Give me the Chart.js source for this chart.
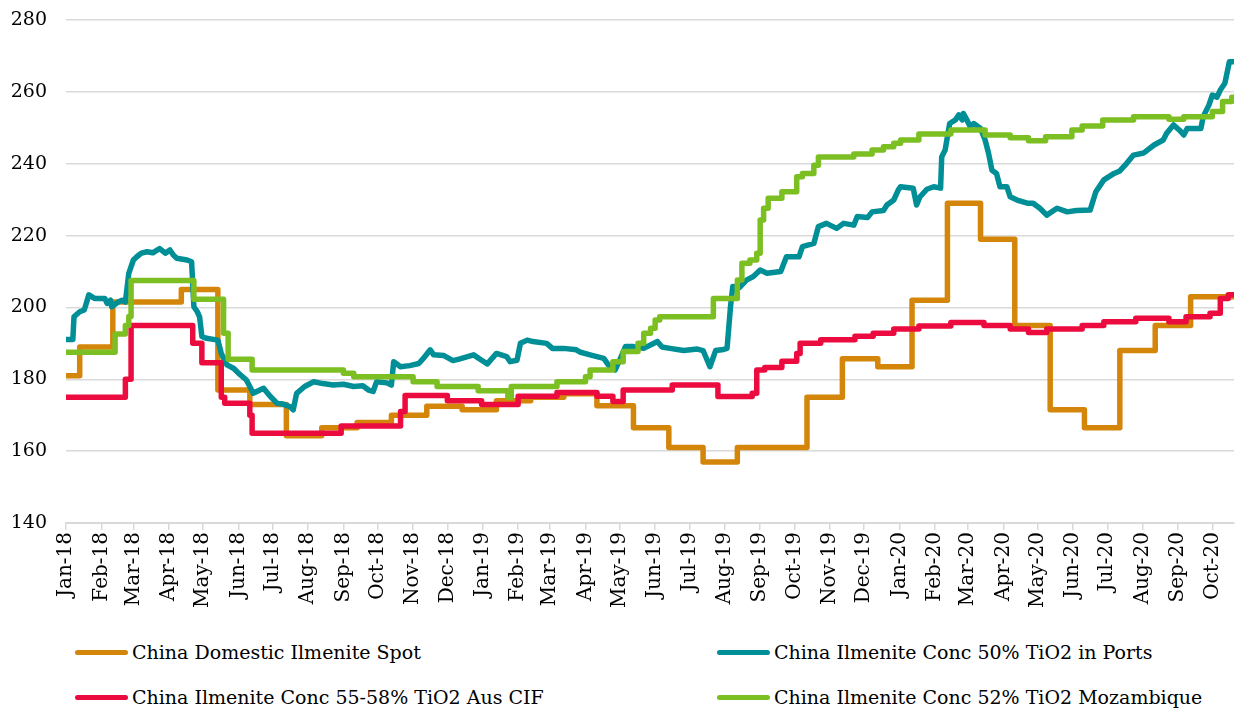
<!DOCTYPE html>
<html>
<head>
<meta charset="utf-8">
<script src="https://cdn.jsdelivr.net/npm/chart.js@4/dist/chart.umd.min.js"></script>
<style>
  body { margin: 0; background: #fff; }
  #wrap { position: relative; width: 1236px; height: 623px; }
  .legend { position: absolute; font-family: "DejaVu Serif", serif; font-size: 19px; color: #000; display: flex; align-items: center; white-space: nowrap; }
  .legend span.swatch { display: inline-block; width: 53px; height: 5px; border-radius: 3px; margin-right: 4px; }
</style>
</head>
<body>
<div id="wrap"><canvas id="line-chart"></canvas></div>
<div id="legend"></div>
<script>
// x values are days counted from 1 Jan 2018
const monthLabels = ['Jan-18', 'Feb-18', 'Mar-18', 'Apr-18', 'May-18', 'Jun-18', 'Jul-18', 'Aug-18', 'Sep-18', 'Oct-18', 'Nov-18', 'Dec-18',
    'Jan-19', 'Feb-19', 'Mar-19', 'Apr-19', 'May-19', 'Jun-19', 'Jul-19', 'Aug-19', 'Sep-19', 'Oct-19', 'Nov-19', 'Dec-19',
    'Jan-20', 'Feb-20', 'Mar-20', 'Apr-20', 'May-20', 'Jun-20', 'Jul-20', 'Aug-20', 'Sep-20', 'Oct-20'];
const lastDay = 1023;

const spotDays = [0, 12, 41, 101, 133, 161, 193, 224, 255, 285, 316, 347, 377, 407, 436, 465, 497, 528, 558, 588, 649, 680, 711, 741, 772, 801, 831, 862, 892, 923, 954, 985, 1023];
const spotValues = [181, 189, 201.5, 205, 177, 173, 164.3, 166.5, 168, 170, 172.5, 171.5, 174, 175, 176, 172.6, 166.5, 161, 157, 161, 175, 185.7, 183.5, 202, 229, 219, 195, 171.5, 166.5, 188, 195, 203, 203];

const portsDays = [0, 6, 7, 12, 16, 20, 25, 34, 36, 39, 40, 46, 49, 52, 55, 59, 62, 66, 71, 76, 82, 87, 91, 94, 97, 106, 110, 112, 115, 117, 119, 123, 133, 136, 141, 147, 151, 158, 164, 173, 179, 185, 190, 196, 199, 202, 209, 217, 225, 234, 243, 252, 260, 265, 269, 272, 281, 285, 287, 293, 301, 309, 313, 319, 322, 331, 339, 345, 357, 363, 369, 377, 386, 389, 395, 398, 404, 409, 421, 426, 436, 447, 450, 459, 471, 475, 481, 485, 490, 497, 506, 518, 522, 529, 541, 553, 558, 564, 569, 576, 579, 582, 584, 590, 596, 602, 608, 614, 626, 631, 642, 645, 655, 659, 666, 675, 681, 690, 693, 702, 706, 716, 719, 725, 729, 731, 742, 745, 748, 754, 760, 766, 767, 770, 774, 779, 782, 785, 786, 789, 792, 795, 801, 805, 808, 811, 815, 818, 824, 827, 833, 842, 847, 853, 859, 868, 877, 885, 897, 902, 909, 918, 923, 929, 935, 944, 953, 961, 964, 970, 975, 979, 982, 994, 996, 1001, 1004, 1008, 1011, 1015, 1019, 1023];
const portsValues = [191.1, 191.1, 197.4, 198.8, 199.3, 203.5, 202.5, 202.5, 201.1, 202, 200.2, 201.6, 202, 201.5, 209.5, 213.2, 214.1, 215.1, 215.5, 215.2, 216.4, 215.1, 216, 214.6, 213.7, 213.2, 212.7, 200.2, 198.8, 197.4, 191.9, 191.4, 190.9, 187.2, 184, 183, 181.7, 179.8, 176.1, 177.5, 175.2, 173.3, 173.1, 172.4, 171.5, 176.1, 178, 179.3, 178.8, 178.4, 178.6, 178, 178.2, 177, 176.6, 179.3, 179, 178.4, 184.9, 183.5, 183.8, 184.4, 185.8, 188.2, 186.8, 186.6, 185.2, 185.7, 186.8, 185.5, 184.3, 187.2, 186.3, 184.9, 185.3, 190, 190.9, 190.5, 190, 188.6, 188.6, 188.2, 187.6, 186.8, 185.8, 184, 182.6, 185.4, 189.1, 189.1, 188.6, 190.5, 189, 188.6, 188, 188.4, 188, 183.5, 188, 188.3, 188.6, 200.2, 205.8, 205.6, 207.6, 208.6, 210.4, 209.5, 210, 214.1, 214.1, 216.9, 217.8, 222.5, 223.4, 222, 223.4, 222.9, 225.3, 225, 226.6, 227, 228.5, 229.9, 232.7, 233.6, 233.2, 228.5, 230.8, 232.9, 233.6, 233.2, 241.9, 243.8, 251.2, 252.2, 253.6, 252.2, 254, 252.2, 250.3, 251.2, 249.8, 246.6, 242.9, 238.2, 237.3, 233.6, 233.6, 230.8, 229.9, 229, 229, 227.6, 225.7, 227.6, 226.6, 227, 227.1, 232.2, 235.5, 237.3, 238, 240.1, 242.4, 243, 245.2, 246.6, 248.5, 250.8, 249.4, 248, 249.8, 249.8, 253.1, 256.3, 259.1, 258.5, 260.5, 262.4, 268.4, 268.4];

const ausDays = [0, 52, 57, 111, 119, 136, 139, 161, 163, 241, 293, 297, 334, 364, 396, 430, 465, 479, 488, 531, 571, 601, 605, 612, 627, 640, 643, 661, 691, 707, 725, 747, 775, 804, 827, 843, 859, 890, 909, 937, 966, 981, 1002, 1011, 1018, 1023];
const ausValues = [175, 180, 195, 190, 184.6, 175, 173.3, 170, 165, 167, 171, 175.5, 174, 173, 175.3, 176.3, 175.3, 173.8, 177, 178.4, 175.2, 176.1, 182.6, 183.3, 185, 187.2, 190, 191, 192, 192.8, 194, 194.8, 195.8, 195, 194, 193, 194, 195, 196, 197, 196, 197.4, 198.4, 202.5, 203.5, 203.5];

const mozDays = [0, 43, 52, 55, 57, 112, 138, 142, 163, 243, 252, 304, 325, 361, 387, 390, 430, 455, 459, 479, 488, 501, 506, 512, 516, 520, 567, 588, 592, 599, 605, 608, 611, 615, 627, 640, 645, 655, 659, 690, 706, 716, 725, 731, 747, 775, 805, 827, 843, 858, 881, 890, 908, 935, 966, 979, 1004, 1013, 1021, 1023];
const mozValues = [187.5, 192.6, 195, 197.5, 207.5, 202.3, 192.8, 185.6, 182.6, 181.7, 180.7, 179.3, 178, 176.8, 175, 178, 179.3, 180.7, 182.6, 184.9, 187.7, 190, 192.8, 194.2, 196.5, 197.4, 202.5, 207.6, 212.3, 213.2, 215.1, 224.3, 227.6, 230.4, 232.2, 236.4, 237.3, 239.6, 241.9, 242.7, 243.8, 244.7, 245.7, 246.6, 248.3, 249.4, 248, 247.2, 246.4, 247.5, 249.4, 250.5, 252.2, 253.1, 252.4, 253.1, 254.5, 257.3, 258.5, 258.5];

const seriesNames = ['China Domestic Ilmenite Spot', 'China Ilmenite Conc 50% TiO2 in Ports', 'China Ilmenite Conc 55-58% TiO2 Aus CIF', 'China Ilmenite Conc 52% TiO2 Mozambique'];
const seriesColors = ['#d4860a', '#008f96', '#ec0b3f', '#7cbf22'];

const start = Date.UTC(2018, 0, 1);
const monthTicks = monthLabels.map((m, i) => (Date.UTC(2018, i, 1) - start) / 86400000);

function pts(days, vals) {
    return days.map((d, i) => ({ x: d, y: vals[i] }));
}

const font = "'DejaVu Serif', serif";

function makeSet(i, days, vals, stepped, order) {
    return {
        label: seriesNames[i],
        data: pts(days, vals),
        borderColor: seriesColors[i],
        borderWidth: 5.5,
        pointRadius: 0,
        stepped: stepped,
        tension: 0,
        borderJoinStyle: 'round',
        borderCapStyle: 'round',
        fill: false,
        order: order
    };
}

new Chart(document.getElementById('line-chart'), {
    type: 'line',
    data: {
        datasets: [
            makeSet(0, spotDays, spotValues, true, 4),
            makeSet(1, portsDays, portsValues, false, 3),
            makeSet(2, ausDays, ausValues, true, 2),
            makeSet(3, mozDays, mozValues, true, 1)
        ]
    },
    options: {
        responsive: true,
        maintainAspectRatio: false,
        animation: false,
        layout: { padding: { top: 20, right: 2, left: 0, bottom: 0 } },
        plugins: { legend: { display: false }, tooltip: { enabled: false } },
        scales: {
            x: {
                type: 'linear',
                min: 0,
                max: lastDay,
                afterBuildTicks: scale => { scale.ticks = monthTicks.map(v => ({ value: v })); },
                afterFit: scale => {
                    scale.height = 100;
                    scale.paddingLeft = 0;
                    scale.paddingRight = 0;
                },
                grid: { drawOnChartArea: false, drawTicks: true, tickLength: 7, color: '#d9d9d9', lineWidth: 1.5 },
                border: { color: '#d9d9d9', width: 2 },
                ticks: {
                    autoSkip: false,
                    minRotation: 90,
                    maxRotation: 90,
                    padding: 2,
                    color: '#000',
                    font: { family: font, size: 20 },
                    callback: (v, i) => monthLabels[i]
                }
            },
            y: {
                min: 140,
                max: 280,
                afterFit: scale => {
                    // label gap is set by ticks.padding; keep it out of the top/bottom room
                    scale.width = 66;
                    scale.paddingTop = 0;
                    scale.paddingBottom = 0;
                },
                grid: { drawTicks: false, color: '#d9d9d9', lineWidth: 1.5 },
                border: { display: false },
                ticks: {
                    stepSize: 20,
                    padding: 19,
                    color: '#000',
                    font: { family: font, size: 19 }
                }
            }
        }
    }
});

// legend below the chart, two columns
const legendPos = [[75, 652], [717, 652], [75, 697], [717, 697]];
const legend = document.getElementById('legend');
seriesNames.forEach((name, i) => {
    const item = document.createElement('div');
    item.className = 'legend';
    item.style.left = legendPos[i][0] + 'px';
    item.style.top = (legendPos[i][1] - 13) + 'px';
    item.style.height = '26px';
    item.innerHTML = '<span class="swatch" style="background:' + seriesColors[i] + '"></span>' + name;
    legend.appendChild(item);
});
</script>
</body>
</html>
